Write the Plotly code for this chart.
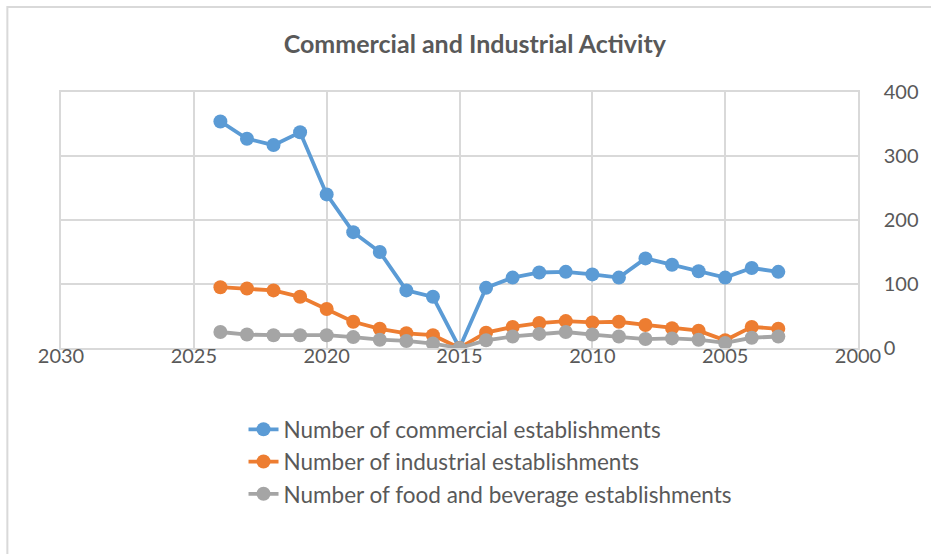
import plotly.graph_objects as go

years = list(range(2024, 2002, -1))
commercial = [354, 327, 317, 337, 240, 181, 150, 90, 80, 0, 94, 110, 118, 119, 115, 110, 140, 130, 120, 110, 125, 119]
industrial = [95, 93, 90, 80, 61, 41, 30, 23, 20, 0, 24, 33, 39, 42, 40, 41, 36, 31, 27, 12, 33, 30]
food = [25, 21, 20, 20, 20, 17, 13, 11, 7, 0, 12, 18, 22, 25, 21, 18, 14, 15, 13, 8, 16, 18]

series_names = ["Number of commercial establishments",
                "Number of industrial establishments",
                "Number of food and beverage establishments"]
series_values = [commercial, industrial, food]
colors = ["#5B9BD5", "#ED7D31", "#A5A5A5"]

FONT = "Lato"
TXT = "#595959"

fig = go.Figure()
for i, (name, vals, col) in enumerate(zip(series_names, series_values, colors)):
    fig.add_trace(go.Scatter(
        x=years, y=vals, name=name, mode="lines+markers",
        line=dict(color=col, width=3.8),
        marker=dict(color=col, size=14),
        legendgroup=f"g{i}",
    ))

fig.update_layout(
    width=931, height=554,
    margin=dict(l=61, r=68, t=92, b=206),
    paper_bgcolor="white", plot_bgcolor="white",
    font=dict(family=FONT, color=TXT, size=20),
    title=dict(text="<b>Commercial and Industrial Activity</b>",
               x=0.51, xanchor="center", y=0.92, yanchor="middle",
               font=dict(family=FONT, size=25, color=TXT)),
    showlegend=True,
    legend=dict(orientation="v", x=0.229, xanchor="left", y=-0.235, yanchor="top",
                font=dict(family=FONT, size=22.5, color=TXT),
                tracegroupgap=0, bgcolor="rgba(0,0,0,0)"),
    xaxis=dict(range=[2030, 2000], dtick=5, tick0=2000, showgrid=True,
               gridcolor="#D9D9D9", gridwidth=1.5, zeroline=False,
               showline=True, linecolor="#D9D9D9", linewidth=1.5, mirror=True,
               ticks="", ticklabelstandoff=-11, tickfont=dict(size=20, color=TXT)),
    yaxis=dict(range=[0, 400], dtick=100, side="right", showgrid=True,
               gridcolor="#D9D9D9", gridwidth=1.5, zeroline=False,
               showline=True, linecolor="#D9D9D9", linewidth=1.5, mirror=True,
               ticks="outside", ticklen=20, tickcolor="rgba(0,0,0,0)",
               tickfont=dict(size=20, color=TXT)),
)

# outer chart border (cropped at right/bottom)
fig.add_shape(type="rect", xref="paper", yref="paper",
              x0=-0.0673, y0=-1.2, x1=1.2, y1=1.332,
              line=dict(color="#D9D9D9", width=2), fillcolor="rgba(0,0,0,0)", layer="below")

fig.write_html("out.html")
